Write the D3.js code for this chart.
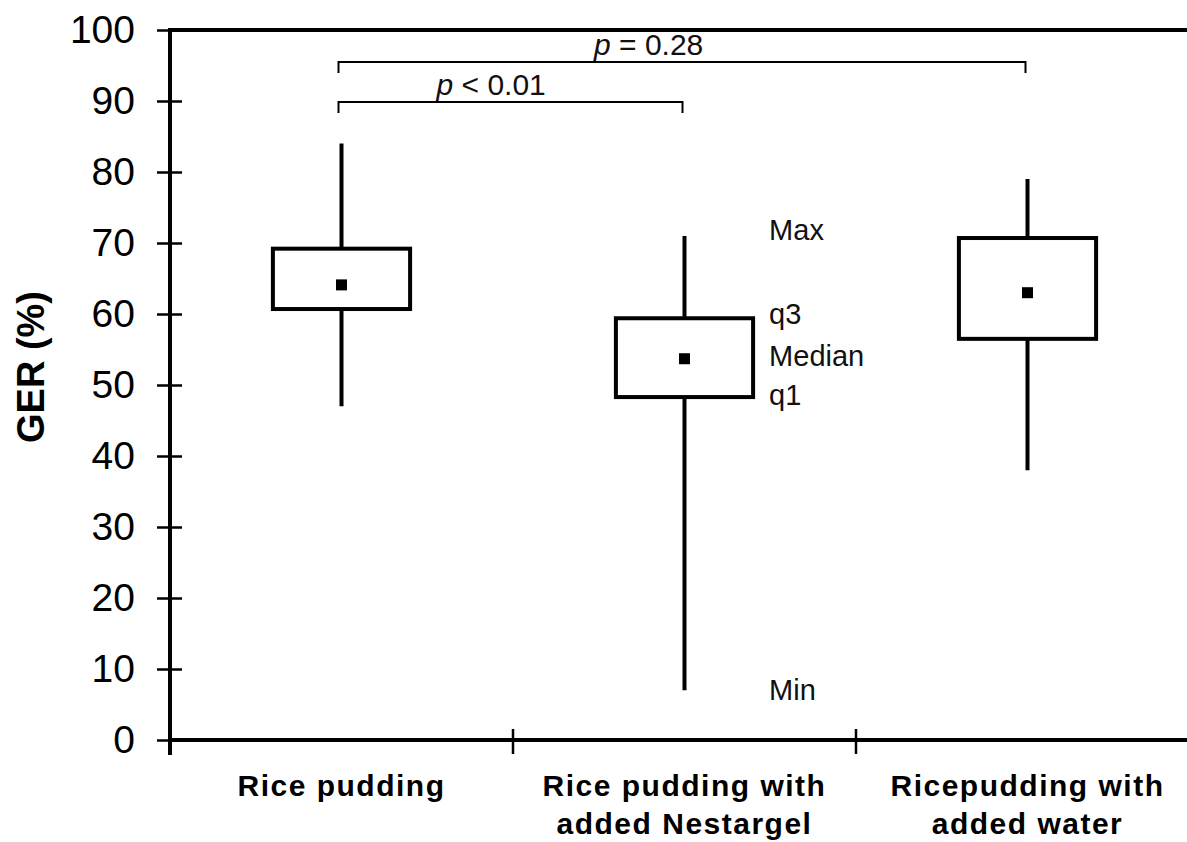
<!DOCTYPE html>
<html>
<head>
<meta charset="utf-8">
<script src="https://cdn.jsdelivr.net/npm/d3@7"></script>
<style>
	body { margin: 0; background: #fff; }
	svg { display: block; font-family: Arial, "Liberation Sans", sans-serif; }
</style>
</head>
<body>
<svg id="chart" width="1187" height="842"></svg>
<script>

var categories = ["Rice pudding", "Rice pudding with added Nestargel", "Ricepudding with added water"];
var categoryLines = [["Rice pudding"], ["Rice pudding with", "added Nestargel"], ["Ricepudding with", "added water"]];

var maxVals = [84, 71, 79];
var q3Vals = [69.2, 59.4, 70.7];
var medianVals = [64.1, 53.7, 63];
var q1Vals = [60.7, 48.3, 56.5];
var minVals = [47, 7, 38];

var yTicks = [0, 10, 20, 30, 40, 50, 60, 70, 80, 90, 100];

// comparisons against "Rice pudding"
var compFrom = [0, 0];
var compTo = [1, 2];
var compText = ["< 0.01", "= 0.28"];

// legend labels drawn next to the middle box
var keyNames = ["Max", "q3", "Median", "q1", "Min"];


function drawChart()
{
	var svg = d3.select("#chart");

	var left = 170, right = 1199, top = 30, bottom = 740;

	var x = d3.scaleBand().domain(categories).range([left, right]).padding(0);
	var y = d3.scaleLinear().domain([0, 100]).range([bottom, top]);
	var bw = x.bandwidth();
	var boxW = bw * 0.4;

	function cx(i)
	{
		return x(categories[i]) + bw / 2;
	}

	// y axis
	var yAxis = d3.axisLeft(y).tickValues(yTicks).tickSize(13).tickPadding(22).tickSizeOuter(0);
	var ga = svg.append("g").attr("transform", "translate(" + left + ",0)").call(yAxis);
	ga.select(".domain").remove();
	ga.selectAll(".tick line").attr("stroke", "#000").attr("stroke-width", 2.5).attr("x2", 12).attr("x1", -13);
	ga.selectAll(".tick text")
		.attr("font-size", 39)
		.attr("font-family", "Arial, 'Liberation Sans', sans-serif")
		.attr("fill", "#000");

	// frame lines
	svg.append("line").attr("x1", left).attr("x2", left).attr("y1", top - 2).attr("y2", bottom + 15)
		.attr("stroke", "#000").attr("stroke-width", 4);
	svg.append("line").attr("x1", left).attr("x2", right).attr("y1", bottom).attr("y2", bottom)
		.attr("stroke", "#000").attr("stroke-width", 4);
	svg.append("line").attr("x1", left).attr("x2", right).attr("y1", top).attr("y2", top)
		.attr("stroke", "#000").attr("stroke-width", 4);

	// category ticks
	svg.selectAll(".xtick")
		.data(categories.slice(1))
		.enter()
		.append("line")
		.attr("x1", function(d) { return x(d); })
		.attr("x2", function(d) { return x(d); })
		.attr("y1", bottom - 11)
		.attr("y2", bottom + 14)
		.attr("stroke", "#000")
		.attr("stroke-width", 2.5);

	// category labels
	var lab = svg.selectAll(".xlab")
		.data(categoryLines)
		.enter()
		.append("text")
		.attr("text-anchor", "middle")
		.attr("font-size", 30)
		.attr("font-weight", "bold")
		.attr("letter-spacing", 1.5)
		.attr("fill", "#000");
	lab.each(function(lines, i)
	{
		var t = d3.select(this);
		lines.forEach(function(s, k)
		{
			t.append("tspan").attr("x", cx(i)).attr("y", 796 + k * 38).text(s);
		});
	});

	// y title
	svg.append("text")
		.attr("transform", "translate(44," + ((top + bottom) / 2 - 18) + ") rotate(-90)")
		.attr("text-anchor", "middle")
		.attr("font-size", 38)
		.attr("font-weight", "bold")
		.attr("fill", "#000")
		.text("GER (%)");

	// whiskers
	svg.selectAll(".whisker")
		.data(categories)
		.enter()
		.append("line")
		.attr("x1", function(d, i) { return cx(i); })
		.attr("x2", function(d, i) { return cx(i); })
		.attr("y1", function(d, i) { return y(maxVals[i]); })
		.attr("y2", function(d, i) { return y(minVals[i]); })
		.attr("stroke", "#000")
		.attr("stroke-width", 4);

	// boxes
	svg.selectAll(".box")
		.data(categories)
		.enter()
		.append("rect")
		.attr("x", function(d, i) { return cx(i) - boxW / 2; })
		.attr("y", function(d, i) { return y(q3Vals[i]); })
		.attr("width", boxW)
		.attr("height", function(d, i) { return y(q1Vals[i]) - y(q3Vals[i]); })
		.attr("fill", "#fff")
		.attr("stroke", "#000")
		.attr("stroke-width", 4);

	// median markers
	svg.selectAll(".med")
		.data(categories)
		.enter()
		.append("rect")
		.attr("x", function(d, i) { return cx(i) - 5.5; })
		.attr("y", function(d, i) { return y(medianVals[i]) - 5.5; })
		.attr("width", 11)
		.attr("height", 11)
		.attr("fill", "#000");

	// key labels next to the Nestargel box
	var keyVals = [maxVals[1], q3Vals[1], medianVals[1], q1Vals[1], minVals[1]];
	var keyShift = [-6, -4, -3, -2, 0];
	svg.selectAll(".key")
		.data(keyNames)
		.enter()
		.append("text")
		.attr("x", cx(1) + boxW / 2 + 16)
		.attr("y", function(d, i) { return y(keyVals[i]) + keyShift[i]; })
		.attr("dy", "0.35em")
		.attr("font-size", 29)
		.attr("fill", "#111")
		.text(function(d) { return d; });

	// significance brackets
	var levelY = [102, 62];
	compTo.forEach(function(t, k)
	{
		var x1 = cx(compFrom[k]) - 3, x2 = cx(t) - 2, by = levelY[k];
		svg.append("path")
			.attr("d", "M" + x1 + "," + (by + 11) + "V" + by + "H" + x2 + "V" + (by + 11))
			.attr("fill", "none")
			.attr("stroke", "#000")
			.attr("stroke-width", 2);
		var txt = svg.append("text")
			.attr("x", (x1 + x2) / 2 - (k == 0 ? 74 : 88))
			.attr("y", by - 7)
			.attr("font-size", 30)
			.attr("fill", "#111");
		txt.append("tspan").attr("font-style", "italic").text("p");
		txt.append("tspan").text(" " + compText[k]);
	});
}

drawChart();

</script>
</body>
</html>
